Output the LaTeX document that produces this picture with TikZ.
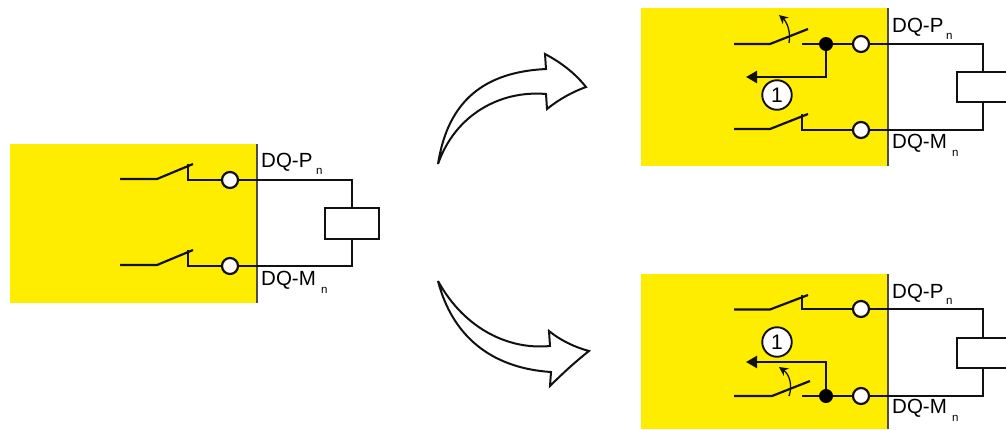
\documentclass[tikz,border=0pt]{standalone}
\usepackage{fontspec}
\setmainfont{Liberation Sans}
\usetikzlibrary{arrows.meta}
\definecolor{modyellow}{HTML}{FFED00}
\definecolor{wirecol}{HTML}{111111}
\tikzset{
  module/.style={fill=modyellow,draw=none},
  edgeline/.style={draw=black!70,line width=1.1pt},
  wire/.style={draw=wirecol,line width=2.2pt,line join=miter},
  terminal/.style={circle,draw=wirecol,fill=white,line width=2.2pt,minimum size=16pt,inner sep=0pt},
  junction/.style={circle,fill=black,minimum size=14pt,inner sep=0pt},
  load/.style={rectangle,draw=wirecol,fill=white,line width=2.2pt,inner sep=0pt},
  numbered/.style={circle,draw=wirecol,fill=white,line width=1.9pt,minimum size=29.5pt,inner sep=0pt,font=\fontsize{21}{21}\selectfont},
  dqlabel/.style={anchor=base west,inner sep=0pt,font=\fontsize{20.5}{21}\selectfont},
  sublabel/.style={anchor=base west,inner sep=0pt,font=\fontsize{11.5}{12}\selectfont},
  flow/.style={wire,-{Triangle[length=11pt,width=12pt]}},
  motion/.style={draw=wirecol,line width=1.3pt,-{Stealth[length=9pt,width=9pt]}},
  bigarrow/.style={draw=wirecol,fill=white,line width=2pt,line join=miter,miter limit=3}
}
\begin{document}
\begin{tikzpicture}[x=1pt,y=-1pt]
\useasboundingbox (0,0) rectangle (1006,429);
% ---- left module
\fill[module] (10,144) rectangle (257,303);
\draw[edgeline] (257,144) -- (257,303);
\node[terminal] (La) at (230,180) {};
\node[terminal] (Lb) at (230,266) {};
\node[load,minimum width=54pt,minimum height=31pt] (Ll) at (352,223.5) {};
\coordinate (La1) at (120,179);
\coordinate (La2) at (157,179);
\coordinate (La3) at (193,164);
\coordinate (La4) at (188,164);
\coordinate (La5) at (188,180);
\coordinate (Lb1) at (120,265);
\coordinate (Lb2) at (157,265);
\coordinate (Lb3) at (193,250);
\coordinate (Lb4) at (188,250);
\coordinate (Lb5) at (188,266);
\draw[wire] (La1) -- (La2) -- (La3);
\draw[wire] (Lb1) -- (Lb2) -- (Lb3);
\draw[wire] (La4) -- (La5) -- (La);
\draw[wire] (Lb4) -- (Lb5) -- (Lb);
\draw[wire] (La) -| (Ll.north);
\draw[wire] (Lb) -| (Ll.south);
\node[dqlabel] (Lp) at (261,167) {DQ-P};
\node[sublabel] (Lpn) at (316,174) {n};
\node[dqlabel] (Lm) at (261,285) {DQ-M};
\node[sublabel] (Lmn) at (321,293) {n};
% ---- top right module
\fill[module] (641,8) rectangle (888,166);
\draw[edgeline] (888,8) -- (888,166);
\node[load,minimum width=60pt,minimum height=30pt] (Tl) at (987,87) {};
\node[terminal] (Ta) at (861,44) {};
\node[terminal] (Tb) at (861,130) {};
\node[junction] (Tj) at (826,44) {};
\node[numbered] (Tn) at (777,95) {1};
\coordinate (Ta1) at (734,44);
\coordinate (Ta2) at (770,44);
\coordinate (Ta3) at (808,29);
\coordinate (Ta6) at (802,44);
\coordinate (Tb1) at (734,129);
\coordinate (Tb2) at (770,129);
\coordinate (Tb3) at (808,114);
\coordinate (Tb4) at (802,114);
\coordinate (Tb5) at (802,130);
\coordinate (Tf1) at (826,77);
\coordinate (Tf2) at (746,77);
\coordinate (Tm1) at (789,43);
\coordinate (Tm2) at (779,15);
\coordinate (Tw1) at (983,44);
\coordinate (Tw2) at (983,72);
\coordinate (Tw3) at (983,102);
\coordinate (Tw4) at (983,130);
\draw[wire] (Ta1) -- (Ta2) -- (Ta3);
\draw[wire] (Tb1) -- (Tb2) -- (Tb3);
\draw[wire] (Ta6) -- (Tj) -- (Ta);
\draw[wire] (Tb4) -- (Tb5) -- (Tb);
\draw[flow] (Tj) -- (Tf1) -- (Tf2);
\draw[motion] (Tm1) .. controls (791,32) and (787,22) .. (Tm2);
\draw[wire] (Ta) -- (Tw1) -- (Tw2);
\draw[wire] (Tb) -- (Tw4) -- (Tw3);
\node[dqlabel] (Tp) at (892,32) {DQ-P};
\node[sublabel] (Tpn) at (946,39) {n};
\node[dqlabel] (Tm) at (892,148) {DQ-M};
\node[sublabel] (Tmn) at (952,156) {n};
% ---- bottom right module
\fill[module] (641,274) rectangle (888,429);
\draw[edgeline] (888,274) -- (888,429);
\node[load,minimum width=60pt,minimum height=30pt] (Bl) at (987,353) {};
\node[terminal] (Ba) at (861,309) {};
\node[terminal] (Bb) at (861,396) {};
\node[junction] (Bj) at (826,396) {};
\node[numbered] (Bn) at (777,342) {1};
\coordinate (Ba1) at (734,309.5);
\coordinate (Ba2) at (770,309.5);
\coordinate (Ba3) at (808,295);
\coordinate (Ba4) at (802,295);
\coordinate (Ba5) at (802,309);
\coordinate (Bb1) at (734,396);
\coordinate (Bb2) at (772,396);
\coordinate (Bb3) at (810,381);
\coordinate (Bb6) at (802,396);
\coordinate (Bf1) at (826,362);
\coordinate (Bf2) at (746,362);
\coordinate (Bm1) at (789,396);
\coordinate (Bm2) at (779,367);
\coordinate (Bw1) at (983,309);
\coordinate (Bw2) at (983,338);
\coordinate (Bw3) at (983,368);
\coordinate (Bw4) at (983,396);
\draw[wire] (Ba1) -- (Ba2) -- (Ba3);
\draw[wire] (Bb1) -- (Bb2) -- (Bb3);
\draw[wire] (Ba4) -- (Ba5) -- (Ba);
\draw[wire] (Bb6) -- (Bj) -- (Bb);
\draw[flow] (Bj) -- (Bf1) -- (Bf2);
\draw[motion] (Bm1) .. controls (793,385) and (789,374) .. (Bm2);
\draw[wire] (Ba) -- (Bw1) -- (Bw2);
\draw[wire] (Bb) -- (Bw4) -- (Bw3);
\node[dqlabel] (Bp) at (892,298) {DQ-P};
\node[sublabel] (Bpn) at (946,304) {n};
\node[dqlabel] (Bm) at (892,413) {DQ-M};
\node[sublabel] (Bmn) at (952,421) {n};
% ---- big arrows
\draw[bigarrow] (438,164) .. controls (448,100) and (485,72) .. (546,69)
  -- (545,54) .. controls (560,62) and (574,72) .. (586,87)
  .. controls (572,92) and (558,100) .. (547,109)
  -- (546,94) .. controls (500,90) and (455,115) .. cycle;
\draw[bigarrow] (438,281) .. controls (465,330) and (510,350) .. (550,346)
  -- (549,331) .. controls (560,340) and (574,347) .. (589,351)
  .. controls (575,362) and (562,374) .. (550,386)
  -- (551,372) .. controls (490,368) and (452,335) .. cycle;
\end{tikzpicture}
\end{document}
